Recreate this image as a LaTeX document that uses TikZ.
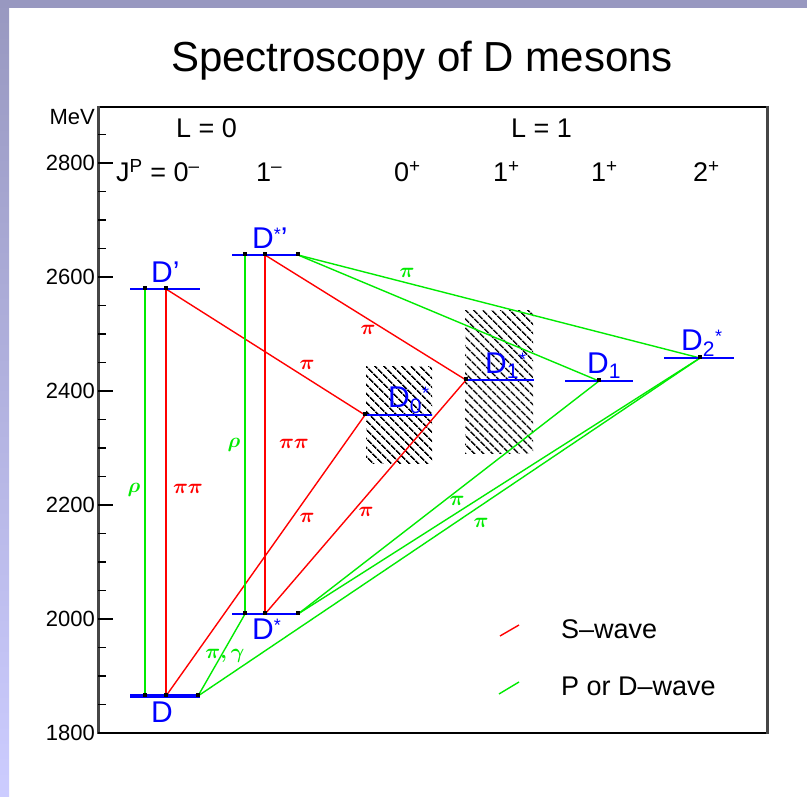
\documentclass[tikz,border=0pt]{standalone}
\usepackage{fontspec}
\setmainfont{Liberation Sans}
\usetikzlibrary{patterns.meta}

\definecolor{lvlblue}{RGB}{0,0,255}
\definecolor{swave}{RGB}{255,0,0}
\definecolor{pwave}{RGB}{0,235,0}
\definecolor{bandtop}{RGB}{152,152,192}
\definecolor{bandlow}{RGB}{204,204,255}
\definecolor{axisgray}{RGB}{70,70,70}

\newcommand\fsz[1]{\fontsize{#1}{#1}\selectfont}
\newcommand\upstar{\raisebox{8pt}{\fsz{18}*}}

\begin{document}
\begin{tikzpicture}[x=1pt,y=-1pt,
    level/.style={lvlblue,line width=1.5pt},
    sdecay/.style={swave,line width=1.4pt},
    pdecay/.style={pwave,line width=1.4pt},
    hatchbox/.style={pattern={Lines[angle=-45,distance=6.5pt,line width=1.6pt]}},
    meson/.style={text=lvlblue,font=\fsz{30},inner sep=0pt,anchor=base west},
    swlabel/.style={text=swave,font=\fsz{22}\boldmath,inner sep=0pt},
    pwlabel/.style={text=pwave,font=\fsz{22}\boldmath,inner sep=0pt},
    head/.style={font=\fsz{27},inner sep=0pt,anchor=base west},
    ticklbl/.style={font=\fsz{22},inner sep=0pt,anchor=east}]

  % page and side bands
  \useasboundingbox (0,0) rectangle (807,797);
  \fill[white] (0,0) rectangle (807,797);
  \shade[top color=bandtop,bottom color=bandlow] (0,0) rectangle (9,797);
  \fill[bandtop] (0,0) rectangle (807,8);

  \node[font=\fsz{42},anchor=base] (title) at (422,72) {Spectroscopy of D mesons};

  % frame and mass axis
  \draw[line width=1.5pt] (98,107) rectangle (767,733);
  \draw[axisgray,line width=3pt] (98,106) -- (98,734);
  \draw[axisgray,line width=3pt] (767,106) -- (767,734);
  \foreach \m in {1850,1900,...,2850}
    \draw[line width=1.5pt] (98,{733-(\m-1800)*0.57}) -- ++(8,0);
  \foreach \m in {1800,2000,...,2800} {
    \draw[line width=1.5pt] (98,{733-(\m-1800)*0.57}) -- ++(15,0);
    \node[ticklbl] (tick\m) at (95,{733-(\m-1800)*0.57}) {\m};
  }
  \node[font=\fsz{22},inner sep=0pt,anchor=base east] (unit) at (95,125) {MeV};

  % quantum numbers
  \node[head] (hL0) at (176,138) {L = 0};
  \node[head] (hL1) at (511,138) {L = 1};
  \node[head] (hJ) at (116,182) {J\textsuperscript{P} = 0\textsuperscript{--}};
  \node[head] (hA) at (256,182) {1\textsuperscript{--}};
  \node[head] (hB) at (394,182) {0\textsuperscript{+}};
  \node[head] (hC) at (493,182) {1\textsuperscript{+}};
  \node[head] (hD) at (591,182) {1\textsuperscript{+}};
  \node[head] (hE) at (693,182) {2\textsuperscript{+}};

  % broad states
  \fill[hatchbox] (366,366) rectangle (432,463);
  \fill[hatchbox] (465,310) rectangle (533,453);

  % decay points on the levels
  \coordinate (Drho) at (145,696);
  \coordinate (Dpipi) at (166,696);
  \coordinate (Dend) at (198,696);
  \coordinate (Dsrho) at (245,614);
  \coordinate (Dspipi) at (265,614);
  \coordinate (Dsend) at (298,614);
  \coordinate (Dprho) at (145,289);
  \coordinate (Dppi) at (166,289);
  \coordinate (Dsprho) at (245,255);
  \coordinate (Dsppi) at (265,255);
  \coordinate (Dspend) at (298,255);
  \coordinate (Dzero) at (365,415);
  \coordinate (Donestar) at (466,380);
  \coordinate (Done) at (599,381);
  \coordinate (Dtwo) at (700,358);

  % S-wave decays
  \draw[sdecay] (Dppi) -- (Dpipi);
  \draw[sdecay] (Dsppi) -- (Dspipi);
  \draw[sdecay] (Dppi) -- (Dzero);
  \draw[sdecay] (Dsppi) -- (Donestar);
  \draw[sdecay] (Dpipi) -- (Dzero);
  \draw[sdecay] (Dspipi) -- (Donestar);

  % P or D-wave decays
  \draw[pdecay] (Dprho) -- (Drho);
  \draw[pdecay] (Dsprho) -- (Dsrho);
  \draw[pdecay] (Dsrho) -- (Dend);
  \draw[pdecay] (Dspend) -- (Done);
  \draw[pdecay] (Dspend) -- (Dtwo);
  \draw[pdecay] (Dsend) -- (Done);
  \draw[pdecay] (Dsend) -- (Dtwo);
  \draw[pdecay] (Dend) -- (Dtwo);

  % levels
  \draw[level,line width=3.5pt] (130,696) -- (200,696);
  \draw[level] (232,614) -- (300,614);
  \draw[level] (130,289) -- (200,289);
  \draw[level,line width=2.5pt] (232,255) -- (300,255);
  \draw[level] (363,415) -- (432,415);
  \draw[level] (465,380) -- (534,380);
  \draw[level] (565,381) -- (633,381);
  \draw[level] (664,358) -- (734,358);
  \foreach \p in {Drho,Dpipi,Dend,Dsrho,Dspipi,Dsend,Dprho,Dppi,
                  Dsprho,Dsppi,Dspend,Dzero,Donestar,Done,Dtwo}
    \fill (\p) +(-2.2,-3) rectangle +(2.2,1);

  % meson names
  \node[meson] (nD) at (151,722) {D};
  \node[meson] (nDs) at (252,639) {D\upstar};
  \node[meson] (nDp) at (151,283) {D’};
  \node[meson] (nDsp) at (252,248) {D\upstar’};
  \node[meson] (nDz) at (388,407) {D\textsubscript{0}\upstar};
  \node[meson] (nDos) at (485,373) {D\textsubscript{1}\upstar};
  \node[meson] (nDo) at (587,373) {D\textsubscript{1}};
  \node[meson] (nDt) at (681,350) {D\textsubscript{2}\upstar};

  % decay labels
  \node[pwlabel] (lrho1) at (134,490) {$\rho$};
  \node[swlabel] (lpp1) at (188,489) {$\pi\pi$};
  \node[pwlabel] (lrho2) at (234,445) {$\rho$};
  \node[swlabel] (lpp2) at (294,444) {$\pi\pi$};
  \node[swlabel] (lpi1) at (307,365) {$\pi$};
  \node[swlabel] (lpi2) at (368,330) {$\pi$};
  \node[swlabel] (lpi3) at (307,518) {$\pi$};
  \node[swlabel] (lpi4) at (366,512) {$\pi$};
  \node[pwlabel] (lpi5) at (407,273) {$\pi$};
  \node[pwlabel] (lpg) at (225,656) {$\pi,\gamma$};
  \node[pwlabel] (lpi6) at (457,501) {$\pi$};
  \node[pwlabel] (lpi7) at (481,523) {$\pi$};

  % legend
  \coordinate (legSa) at (500,636);
  \coordinate (legSb) at (519,625);
  \coordinate (legPa) at (499,694);
  \coordinate (legPb) at (519,682);
  \draw[sdecay] (legSa) -- (legSb);
  \draw[pdecay] (legPa) -- (legPb);
  \node[font=\fsz{27},inner sep=0pt,anchor=base west] (legS) at (561,638) {S--wave};
  \node[font=\fsz{27},inner sep=0pt,anchor=base west] (legP) at (561,695) {P or D--wave};
\end{tikzpicture}
\end{document}
